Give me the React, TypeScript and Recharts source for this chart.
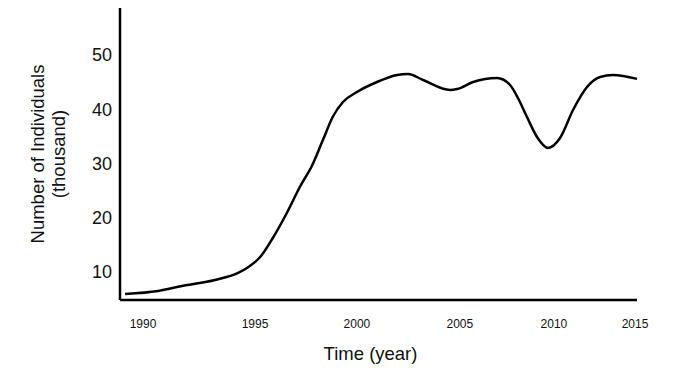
import React from "react";
import { LineChart, Line, XAxis, YAxis, Label } from "recharts";

// x positions expressed in "year" units along the drawn axis
const years = [
  1989.09, 1990.76, 1991.98, 1993.66, 1994.83, 1995.28, 1995.95, 1996.61,
  1997.32, 1997.98, 1998.59, 1999.15, 1999.65, 2000.16, 2000.87, 2001.89,
  2002.91, 2003.47, 2004.23, 2005.6, 2005.96, 2006.77, 2007.99, 2008.65,
  2009.05, 2009.51, 2010.02, 2010.58, 2011.19, 2011.85, 2012.56, 2013.22,
  2013.88, 2015.1,
];
// Number of individuals (thousand)
const values = [
  5.94, 6.5, 7.42, 8.53, 9.82, 10.74, 12.76, 16.36,
  20.97, 25.76, 29.63, 34.42, 38.66, 41.33, 43.18, 45.02,
  46.31, 46.5, 45.39, 43.55, 43.73, 45.02, 45.76, 44.47,
  42.07, 38.57, 34.89, 32.86, 34.7, 39.86, 44.1, 45.94,
  46.31, 45.6,
];
const xTickPositions = [1990, 1995.69, 2000.87, 2006.1, 2010.88, 2015];
const xTickLabels = ["1990", "1995", "2000", "2005", "2010", "2015"];
const yTicks = [10, 20, 30, 40, 50];

const data = years.map((t, i) => ({ t, v: values[i] }));

const FONT = "'Liberation Sans', Arial, Helvetica, sans-serif";

const YTitle = (props: any) => {
  const vb = props.viewBox || { x: 0, y: 0, width: 0, height: 0 };
  const cy = vb.y + vb.height / 2;
  const x1 = 44;
  const x2 = 65;
  return (
    <g fontFamily={FONT} fontSize={18.5} fill="#111">
      <text x={x1} y={cy} textAnchor="middle" transform={`rotate(-90, ${x1}, ${cy})`}>
        Number of Individuals
      </text>
      <text x={x2} y={cy} textAnchor="middle" transform={`rotate(-90, ${x2}, ${cy})`}>
        (thousand)
      </text>
    </g>
  );
};

const XTitle = (props: any) => {
  const vb = props.viewBox || { x: 0, y: 0, width: 0, height: 0 };
  const cx = vb.x + vb.width / 2 - 8;
  const y = vb.y + 60;
  return (
    <text x={cx} y={y} textAnchor="middle" fontFamily={FONT} fontSize={18.5} fill="#111">
      Time (year)
    </text>
  );
};

export default function App() {
  return (
    <div style={{ position: "absolute", left: 0, top: 0, background: "#fff" }}>
      <LineChart
        width={677}
        height={373}
        data={data}
        margin={{ top: 8, right: 40, bottom: 0, left: 0 }}
        style={{ fontFamily: FONT }}
      >
        <XAxis
          dataKey="t"
          type="number"
          domain={[1988.83, 2015.1]}
          ticks={xTickPositions}
          tickFormatter={(v: number) => xTickLabels[xTickPositions.indexOf(v)] ?? ""}
          height={73}
          tickLine={false}
          tickMargin={13}
          axisLine={{ stroke: "#000", strokeWidth: 2.5 }}
          tick={{ fill: "#111", fontSize: 12, fontFamily: FONT }}
          interval={0}
        >
          <Label content={<XTitle />} />
        </XAxis>
        <YAxis
          type="number"
          domain={[4.84, 58.66]}
          ticks={yTicks}
          width={120}
          tickLine={false}
          axisLine={{ stroke: "#000", strokeWidth: 2.5 }}
          tick={{ fill: "#111", fontSize: 18, fontFamily: FONT }}
          interval={0}
        >
          <Label content={<YTitle />} />
        </YAxis>
        <Line
          type="monotone"
          dataKey="v"
          stroke="#000"
          strokeWidth={2.5}
          dot={false}
          isAnimationActive={false}
        />
      </LineChart>
    </div>
  );
}
